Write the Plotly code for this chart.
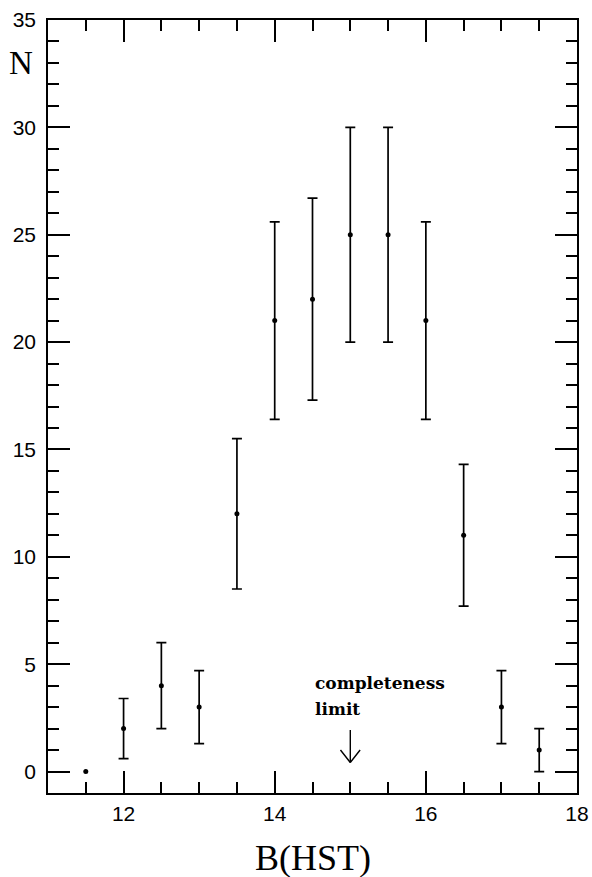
import plotly.graph_objects as go

# Data
mag = [11.5, 12.0, 12.5, 13.0, 13.5, 14.0, 14.5, 15.0, 15.5, 16.0, 16.5, 17.0, 17.5]
counts = [0, 2, 4, 3, 12, 21, 22, 25, 25, 21, 11, 3, 1]
err_up = [0, 1.4, 2.0, 1.7, 3.5, 4.6, 4.7, 5.0, 5.0, 4.6, 3.3, 1.7, 1.0]
err_down = [0, 1.4, 2.0, 1.7, 3.5, 4.6, 4.7, 5.0, 5.0, 4.6, 3.3, 1.7, 1.0]
x_ticks = [12, 14, 16, 18]
y_ticks = [0, 5, 10, 15, 20, 25, 30, 35]
limit_mag = 15.0

fig = go.Figure()

with_err = [i for i in range(len(mag)) if err_up[i] > 0 or err_down[i] > 0]
no_err = [i for i in range(len(mag)) if i not in with_err]

fig.add_trace(go.Scatter(
    x=[mag[i] for i in with_err], y=[counts[i] for i in with_err],
    mode="markers", marker=dict(color="black", size=5),
    error_y=dict(type="data", array=[err_up[i] for i in with_err],
                 arrayminus=[err_down[i] for i in with_err],
                 symmetric=False, color="black", thickness=1.7, width=5),
    showlegend=False))
fig.add_trace(go.Scatter(
    x=[mag[i] for i in no_err], y=[counts[i] for i in no_err],
    mode="markers", marker=dict(color="black", size=5), showlegend=False))

axis_common = dict(showline=True, linecolor="black", linewidth=1.5, mirror="allticks",
                   ticks="inside", tickcolor="black", tickwidth=1.5, ticklen=22,
                   showgrid=False, zeroline=False, automargin=False,
                   tickfont=dict(family="Liberation Sans, Arial, sans-serif", size=21, color="black"))

fig.update_xaxes(range=[11, 18], tickvals=x_ticks, ticktext=[str(v) for v in x_ticks],
                 minor=dict(ticks="inside", dtick=0.5, tick0=11, ticklen=11, tickwidth=1.5,
                            tickcolor="black", showgrid=False),
                 ticklabelstandoff=1,
                 **axis_common)
fig.update_yaxes(range=[-1, 35], tickvals=y_ticks, ticktext=[str(v) for v in y_ticks],
                 minor=dict(ticks="inside", dtick=1, tick0=0, ticklen=11, tickwidth=1.5,
                            tickcolor="black", showgrid=False),
                 ticklabelstandoff=6,
                 **axis_common)

serif = "Liberation Serif, Times New Roman, serif"
fig.add_annotation(text="B(HST)", xref="paper", yref="paper", x=0.5, y=0,
                   yshift=-43, xanchor="center", yanchor="top", showarrow=False,
                   font=dict(family=serif, size=36, color="black"))
fig.add_annotation(text="N", xref="paper", yref="y", x=0, y=33.0, xshift=-13,
                   xanchor="right", yanchor="middle", showarrow=False,
                   font=dict(family=serif, size=33, color="black"))

fig.add_annotation(text="<b>completeness</b>", x=limit_mag, y=4.1, xref="x", yref="y",
                   xshift=-37, xanchor="left", yanchor="middle", showarrow=False,
                   font=dict(family="DejaVu Serif, serif", size=17, color="black"))
fig.add_annotation(text="<b>limit</b>", x=limit_mag, y=2.93, xref="x", yref="y",
                   xshift=-37, xanchor="left", yanchor="middle", showarrow=False,
                   font=dict(family="DejaVu Serif, serif", size=17, color="black"))
# arrow shaft
fig.add_annotation(x=limit_mag, y=0.42, ax=limit_mag, ay=2.0, xref="x", yref="y",
                   axref="x", ayref="y", text="", showarrow=True, arrowhead=0,
                   arrowwidth=1.4, arrowcolor="black", standoff=0, startstandoff=0)
# open arrow head (two arms, pixel offsets from tip)
for dx in (-11, 11):
    fig.add_annotation(x=limit_mag, y=0.42, ax=dx, ay=-14, xref="x", yref="y",
                       text="", showarrow=True, arrowhead=0, arrowwidth=1.4,
                       arrowcolor="black", standoff=0, startstandoff=0)

fig.update_layout(width=592, height=877, margin=dict(l=48, r=15, t=20, b=84),
                  plot_bgcolor="white", paper_bgcolor="white")

fig.write_html("out.html")
